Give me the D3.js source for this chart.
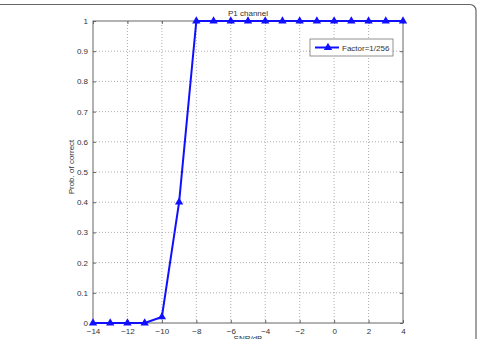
<!DOCTYPE html>
<html>
<head>
<meta charset="utf-8">
<script src="https://cdn.jsdelivr.net/npm/d3@7"></script>
<style>
  body { margin: 0; background: #fff; }
  text { font-family: "Liberation Sans", Arial, sans-serif; }
</style>
</head>
<body>
<svg width="478" height="339"></svg>
<script>
// data
var snr = [-14, -13, -12, -11, -10, -9, -8, -7, -6, -5, -4, -3, -2, -1, 0, 1, 2, 3, 4];
var prob = [0, 0, 0, 0, 0.02, 0.4, 1, 1, 1, 1, 1, 1, 1, 1, 1, 1, 1, 1, 1];
var xTicks = [-14, -12, -10, -8, -6, -4, -2, 0, 2, 4];
var yTicks = [0, 0.1, 0.2, 0.3, 0.4, 0.5, 0.6, 0.7, 0.8, 0.9, 1];
var seriesName = "Factor=1/256";

var svg = d3.select("svg");

// rounded frame around the figure
svg.append("rect")
  .attr("x", -10).attr("y", 4.5)
  .attr("width", 486).attr("height", 360)
  .attr("rx", 6)
  .attr("fill", "none")
  .attr("stroke", "#666")
  .attr("stroke-width", 1.2);

var x = d3.scaleLinear().domain([-14, 4]).range([93, 403]);
var y = d3.scaleLinear().domain([0, 1]).range([323, 21]);

var g = svg.append("g");

// dotted grid
g.selectAll(".vg").data(xTicks.slice(1, -1)).enter().append("line")
  .attr("x1", d => x(d)).attr("x2", d => x(d))
  .attr("y1", y(0)).attr("y2", y(1))
  .attr("stroke", "#999").attr("stroke-width", 0.8)
  .attr("stroke-dasharray", "1,2");
g.selectAll(".hg").data(yTicks.slice(1, -1)).enter().append("line")
  .attr("x1", x(-14)).attr("x2", x(4))
  .attr("y1", d => y(d)).attr("y2", d => y(d))
  .attr("stroke", "#999").attr("stroke-width", 0.8)
  .attr("stroke-dasharray", "1,2");

// axes: tick marks pointing inward like matlab
function styleAxis(sel) {
  sel.select(".domain").remove();
  sel.selectAll("line").attr("stroke", "#666");
  sel.selectAll("text").attr("fill", "#333").style("font-size", "8px");
}
g.append("g").attr("transform", "translate(0," + y(0) + ")")
  .call(d3.axisBottom(x).tickValues(xTicks).tickSize(-3).tickPadding(5)
    .tickFormat(d => d < 0 ? "\u2212" + (-d) : d))
  .call(styleAxis);
g.append("g").attr("transform", "translate(0," + y(1) + ")")
  .call(d3.axisTop(x).tickValues(xTicks).tickSize(-3).tickFormat(""))
  .call(styleAxis);
g.append("g").attr("transform", "translate(" + x(-14) + ",0)")
  .call(d3.axisLeft(y).tickValues(yTicks).tickSize(-3).tickPadding(5)
    .tickFormat(d3.format("~g")))
  .call(styleAxis);
g.append("g").attr("transform", "translate(" + x(4) + ",0)")
  .call(d3.axisRight(y).tickValues(yTicks).tickSize(-3).tickFormat(""))
  .call(styleAxis);

// box
g.append("rect")
  .attr("x", x(-14)).attr("y", y(1))
  .attr("width", x(4) - x(-14)).attr("height", y(0) - y(1))
  .attr("fill", "none").attr("stroke", "#666").attr("stroke-width", 1);

// series
var line = d3.line().x((d, i) => x(snr[i])).y(d => y(d));
g.append("path").datum(prob)
  .attr("d", line)
  .attr("fill", "none").attr("stroke", "#1010ff").attr("stroke-width", 2);

var tri = d3.symbol().type(d3.symbolTriangle).size(30);
g.selectAll(".mk").data(prob).enter().append("path")
  .attr("transform", (d, i) => "translate(" + x(snr[i]) + "," + y(d) + ")")
  .attr("d", tri)
  .attr("fill", "#1010ff");

// labels
svg.append("text").attr("x", 248).attr("y", 16)
  .attr("text-anchor", "middle").attr("fill", "#333")
  .style("font-size", "8px").text("P1 channel");
svg.append("text")
  .attr("transform", "translate(74,167) rotate(-90)")
  .attr("text-anchor", "middle").attr("fill", "#333")
  .style("font-size", "8px").text("Prob. of correct");
// x label sits at the bottom edge, partly cut like in the reference
svg.append("text").attr("x", 248).attr("y", 341)
  .attr("text-anchor", "middle").attr("fill", "#333")
  .style("font-size", "8px").text("SNR/dB");

// legend
var lg = svg.append("g").attr("transform", "translate(310,39)");
lg.append("rect").attr("width", 83).attr("height", 17)
  .attr("fill", "#fff").attr("stroke", "#777").attr("stroke-width", 0.8);
lg.append("line").attr("x1", 5).attr("x2", 29).attr("y1", 8.5).attr("y2", 8.5)
  .attr("stroke", "#1010ff").attr("stroke-width", 2);
lg.append("path").attr("transform", "translate(18,8.5)").attr("d", tri)
  .attr("fill", "#1010ff");
lg.append("text").attr("x", 32).attr("y", 11.5)
  .attr("fill", "#333").style("font-size", "8px").text(seriesName);
</script>
</body>
</html>
